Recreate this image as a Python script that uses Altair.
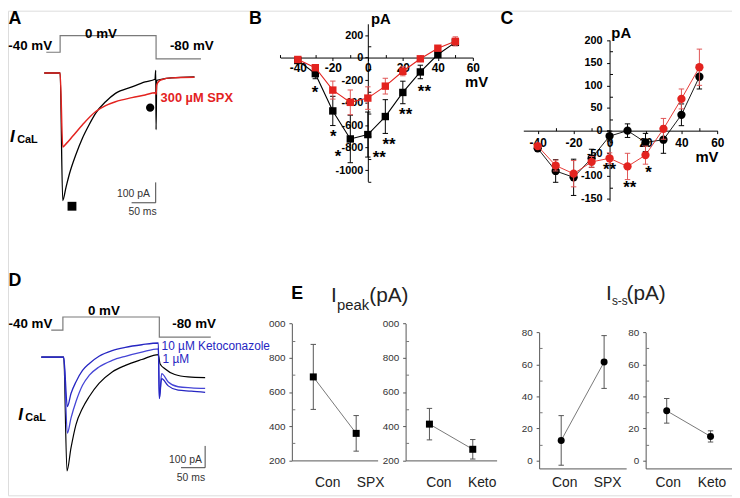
import altair as alt
import pandas as pd

FONT = "Liberation Sans"
W, H, M = 732, 490, 8  # plot area and page margin

# ---------------- data ----------------
# Panel A: I_CaL traces (time ms, current pA)
a_t_con = [-33, 0, 5.4, 12.2, 19.1, 32.8, 46.5, 60.2, 73.9, 94.4, 114.9, 149.1, 176.5, 197.0, 198.5, 199.2, 200.5, 210, 231, 279]
a_i_con = [0, 0, -626, -561, -497, -400, -319, -254, -197, -141, -100, -68, -44, -31, 13, -278, -36, -31, -24, -19]
a_t_spx = [-33, 0, 5.4, 12.2, 25.9, 46.5, 73.9, 94.4, 114.9, 149.1, 176.5, 197.0, 199.2, 200.4, 203.8, 210.6, 231, 279]
a_i_spx = [0, 0, -363, -348, -311, -254, -189, -160, -141, -121, -108, -97, -105, -60, -44, -33, -24, -21]
a_step_t = [-28.7, 0, 0, 199.2, 199.2, 292.4]
step_mv = [-40, -40, 0, 0, -80, -80]
a_bar_t = [148.4, 198.4, 198.4]
a_bar_i = [-637, -637, -537]
a_peak_mark = (24.6, -654)
a_ss_mark = (186.9, -170)

# Panel B: peak I-V (mV, pA)
volt = [-40, -30, -20, -10, 0, 10, 20, 30, 40, 50]
b_con = [-26, -143, -474, -723, -684, -524, -310, -128, 27, 135]
b_con_err = [10, 45, 130, 211, 200, 150, 100, 60, 15, 25]
b_spx = [-17, -90, -289, -398, -360, -254, -122, -11, 83, 144]
b_spx_err = [10, 20, 80, 110, 100, 70, 40, 15, 15, 40]
b_star_x = [-30.2, -19.8, -17.0, 6.5, 12.1, 21.6, 32.3]
b_star_y = [-280, -670, -845, -855, -743, -474, -269]
b_star_t = ["*", "*", "*", "**", "**", "**", "**"]

# Panel C: steady-state I-V (mV, pA)
c_con = [-39, -89, -103, -61, -12, 0, -26, -20, 35, 119]
c_con_err = [5, 25, 40, 20, 11, 15, 20, 30, 24, 27]
c_spx = [-34, -77, -95, -69, -61, -79, -54, 4, 70, 140]
c_spx_err = [5, 12, 29, 12, 12, 29, 20, 23, 22, 40]
c_star_x = [0, 11.3, 21.7]
c_star_y = [-78, -119, -85]
c_star_t = ["**", "**", "*"]

# Panel D: traces control / 1 uM / 10 uM ketoconazole
d_t_con = [-44.8, 1.7, 8.5, 16.8, 27.0, 40.7, 54.4, 74.9, 102.2, 129.6, 163.8, 197.9, 201.4, 211.6, 232.1, 259.5, 295]
d_i_con = [0, 0, -523, -417, -311, -235, -182, -121, -68, -38, -11, 12, -30, -53, -80, -91, -94]
d_t_k = [-44.8, 1.7, 9.2, 16.8, 27.0, 40.7, 54.4, 74.9, 102.2, 129.6, 163.8, 197.9, 200, 204.8, 218.5, 239, 266.3, 295]
d_i_k1 = [0, 0, -349, -280, -205, -129, -84, -45, -15, 4, 23, 38, -190, -76, -114, -136, -141, -144]
d_i_k10 = [0, 0, -227, -167, -114, -61, -30, 4, 30, 45, 57, 65, -190, -99, -132, -152, -156, -162]
d_step_t = [-24.2, 0, 0, 200, 200, 306.7]
d_bar_t = [245, 295, 295]
d_bar_i = [-508, -508, -408]

# Panel E: summary
e_cat_spx = ["Con", "SPX"]
e_cat_keto = ["Con", "Keto"]
e_peak_spx = [688, 358]
e_peak_spx_err = [190, 104]
e_peak_keto = [412, 265]
e_peak_keto_err = [92, 57]
e_ss_spx = [12.5, 61.5]
e_ss_spx_err = [15.5, 16.5]
e_ss_keto = [31, 15]
e_ss_keto_err = [7.7, 3.5]

RED = "#e3231f"
RED_E = "#e05555"
BLUE1 = "#4545d6"
BLUE10 = "#2626c2"
CAP = "M-1,0L1,0"


# ---------------- helpers ----------------
def sc(dom, rng):
    return alt.Scale(domain=dom, range=[r - M for r in rng], nice=False, zero=False)


def psc(cats, rng, pad):
    return alt.Scale(type="point", domain=cats, range=[r - M for r in rng], padding=pad)


def line(xs, ys, sx, sy, color, w=1.0, interp="linear"):
    df = pd.DataFrame({"x": xs, "y": ys, "o": list(range(len(xs)))})
    return alt.Chart(df).mark_line(color=color, strokeWidth=w, interpolate=interp).encode(
        x=alt.X("x:Q", scale=sx, axis=None),
        y=alt.Y("y:Q", scale=sy, axis=None),
        order="o:Q",
    )


def series(xs, ys, errs, sx, sy, color, shape, size, ecolor=None, lcolor=None, lw=1.0, xt="Q", cap=30):
    ecolor = ecolor or color
    lcolor = lcolor or color
    df = pd.DataFrame({
        "x": xs, "y": ys,
        "lo": [y - e for y, e in zip(ys, errs)],
        "hi": [y + e for y, e in zip(ys, errs)],
    })
    X = alt.X(f"x:{xt}", scale=sx, axis=None)
    base = alt.Chart(df)
    return [
        base.mark_rule(color=ecolor, strokeWidth=1).encode(
            x=X, y=alt.Y("lo:Q", scale=sy, axis=None), y2="hi:Q"),
        base.mark_point(shape=CAP, size=cap, color=ecolor, strokeWidth=1, opacity=1).encode(
            x=X, y=alt.Y("lo:Q", scale=sy, axis=None)),
        base.mark_point(shape=CAP, size=cap, color=ecolor, strokeWidth=1, opacity=1).encode(
            x=X, y=alt.Y("hi:Q", scale=sy, axis=None)),
        base.mark_line(color=lcolor, strokeWidth=lw).encode(
            x=X, y=alt.Y("y:Q", scale=sy, axis=None)),
        base.mark_point(shape=shape, size=size, filled=True, color=color, opacity=1).encode(
            x=X, y=alt.Y("y:Q", scale=sy, axis=None)),
    ]


def stars(xs, ys, ts, sx, sy):
    df = pd.DataFrame({"x": xs, "y": ys, "t": ts})
    return alt.Chart(df).mark_text(font=FONT, fontSize=17, fontWeight="bold", color="black", dy=4).encode(
        x=alt.X("x:Q", scale=sx, axis=None), y=alt.Y("y:Q", scale=sy, axis=None), text="t:N")


def marker(pt, sx, sy, shape, size):
    df = pd.DataFrame({"x": [pt[0]], "y": [pt[1]]})
    return alt.Chart(df).mark_point(shape=shape, size=size, filled=True, color="black", opacity=1).encode(
        x=alt.X("x:Q", scale=sx, axis=None), y=alt.Y("y:Q", scale=sy, axis=None))


def qaxis(orient, offset, values, size, pad, tick=3, color="black", lcolor="black", bold=True,
          expr="'' + datum.value"):
    return alt.Axis(orient=orient, offset=offset, values=values, labelExpr=expr, labelFont=FONT,
                    labelFontSize=size, labelFontWeight="bold" if bold else "normal", labelColor=lcolor,
                    labelPadding=pad, tickSize=tick, tickColor=color, domainColor=color, tickWidth=1,
                    domainWidth=1, grid=False, title=None, labelFlush=False, labelOverlap=False)


def minor(orient, offset, values, color="black", tick=3):
    return alt.Axis(orient=orient, offset=offset, values=values, labels=False, domain=False,
                    tickSize=tick, tickColor=color, tickWidth=1, grid=False, title=None)


def axes(sx, sy, xv, yv, xt, xaxis, yaxis):
    df = pd.DataFrame({"x": [xv], "y": [yv]})
    return alt.Chart(df).mark_point(opacity=0).encode(
        x=alt.X(f"x:{xt}", scale=sx, axis=xaxis), y=alt.Y("y:Q", scale=sy, axis=yaxis))


def txt(s, x, y, size, bold=True, italic=False, color="black", align="left"):
    return alt.Chart(pd.DataFrame({"s": [s]})).mark_text(
        font=FONT, fontSize=size, fontWeight="bold" if bold else "normal",
        fontStyle="italic" if italic else "normal", color=color, align=align, baseline="middle",
    ).encode(x=alt.value(x - M), y=alt.value(y - M), text="s:N")


layers = []

# ---------------- Panel A ----------------
ax_A = sc([0, 200], [60.7, 158.1])
ay_A = sc([-600, 0], [194.6, 71])
av_A = sc([-80, -40, 0], [56.7, 50, 33.3])
layers += [
    line(a_step_t, step_mv, ax_A, av_A, "#7a7a7a", 1.2),
    line(a_t_con, a_i_con, ax_A, ay_A, "black", 1.3, "monotone"),
    line(a_t_spx, a_i_spx, ax_A, ay_A, RED, 1.5, "monotone"),
    line(a_bar_t, a_bar_i, ax_A, ay_A, "#444", 1.0),
    marker(a_peak_mark, ax_A, ay_A, "square", 80),
    marker(a_ss_mark, ax_A, ay_A, "circle", 70),
]

# ---------------- Panel B ----------------
bx = sc([-50, 60], [283.3, 478.0])
by = sc([-1100, 300], [180.6, 21.25])
layers += [
    axes(bx, by, 0, 0, "Q",
         qaxis("bottom", (55.4 - M) - H, [-40, -20, 0, 20, 40, 60], 12, 2),
         qaxis("left", -(371.8 - M), [-1000, -800, -600, -400, -200, 0, 200], 11, 2)),
    axes(bx, by, 0, 0, "Q",
         minor("top", -(55.4 - M), [-50, -30, -10, 10, 30, 50]),
         minor("right", (371.8 - M) - W, [-1100, -900, -700, -500, -300, -100, 100])),
]
layers += series(volt, b_con, b_con_err, bx, by, "black", "square", 56, lw=1.1)
layers += series(volt, b_spx, b_spx_err, bx, by, RED, "square", 56, ecolor=RED_E, lw=1.1)
layers.append(stars(b_star_x, b_star_y, b_star_t, bx, by))

# ---------------- Panel C ----------------
cx = sc([-48, 60], [529.0, 725.2])
cy = sc([-155, 200], [200.3, 37.7])
layers += [
    axes(cx, cy, 0, 0, "Q",
         qaxis("bottom", (129.3 - M) - H, [-40, -20, 0, 20, 40, 60], 12, 4),
         qaxis("left", -(616.2 - M), [-150, -100, -50, 0, 50, 100, 150, 200], 11, 4.5)),
    axes(cx, cy, 0, 0, "Q",
         minor("top", -(129.3 - M), [-30, -10, 10, 30, 50]),
         minor("right", (616.2 - M) - W, [-125, -75, -25, 25, 75, 125, 175])),
]
layers += series(volt, c_con, c_con_err, cx, cy, "black", "circle", 70, lw=0.9)
layers += series(volt, c_spx, c_spx_err, cx, cy, RED, "circle", 70, ecolor=RED_E, lw=0.9)
layers.append(stars(c_star_x, c_star_y, c_star_t, cx, cy))

# ---------------- Panel D ----------------
dx_ = sc([0, 200], [63.5, 161.0])
dy_ = sc([-500, 0], [468.3, 358.3])
dv_ = sc([-80, -40, 0], [338, 331, 317.7])
layers += [
    line(d_step_t, step_mv, dx_, dv_, "#7a7a7a", 1.2),
    line(d_t_con, d_i_con, dx_, dy_, "black", 1.2, "monotone"),
    line(d_t_k, d_i_k1, dx_, dy_, BLUE1, 1.3, "monotone"),
    line(d_t_k, d_i_k10, dx_, dy_, BLUE10, 1.3, "monotone"),
    line(d_bar_t, d_bar_i, dx_, dy_, "#444", 1.0),
]


# ---------------- Panel E ----------------
def e_panel(cats, vals, errs, xr, pad, yd, yr, yaxis_x, xaxis_y, yvals, ymin, lab_off, lab_pad, shape, expr):
    sx = psc(cats, xr, pad)
    sy = sc(yd, yr)
    xa = alt.Axis(orient="bottom", offset=(xaxis_y - M) - H, ticks=False, labelFont=FONT, labelFontSize=14,
                  labelColor="#222", labelPadding=lab_pad, labelOffset=lab_off, domainColor="#555",
                  domainWidth=1, grid=False, title=None, labelAngle=0)
    ya = qaxis("left", -(yaxis_x - M), yvals, 10, 4, tick=3, color="#555", lcolor="#333", bold=False, expr=expr)
    ym = minor("right", (yaxis_x - M) - W, ymin, color="#777", tick=3)
    out = [axes(sx, sy, cats[0], yd[0], "N", xa, ya), axes(sx, sy, cats[0], yd[0], "N", None, ym)]
    out += series(cats, vals, errs, sx, sy, "black", shape, 50, ecolor="#555", lcolor="#555", lw=0.8, xt="N", cap=30)
    return out


peak_expr = "datum.value == 1000 ? '000' : '' + datum.value"
layers += e_panel(e_cat_spx, e_peak_spx, e_peak_spx_err, [295, 381.7], 0.5, [200, 1000], [462.7, 324.3],
                  295, 462.7, [200, 400, 600, 800, 1000], [300, 500, 700, 900], 14, 15, "square", peak_expr)
layers += e_panel(e_cat_keto, e_peak_keto, e_peak_keto_err, [410, 502], 0.55, [200, 1000], [462.7, 324.3],
                  410, 462.7, [200, 400, 600, 800, 1000], [300, 500, 700, 900], 9, 15, "square", peak_expr)
layers += e_panel(e_cat_spx, e_ss_spx, e_ss_spx_err, [545, 633], 0.514, [-5, 80], [470.8, 333.3],
                  545, 470.8, [0, 20, 40, 60, 80], [10, 30, 50, 70], 3, 7, "circle", "'' + datum.value")
layers += e_panel(e_cat_keto, e_ss_keto, e_ss_keto_err, [652.7, 739.6], 0.48, [-5, 80], [470.8, 333.3],
                  652.7, 470.8, [0, 20, 40, 60, 80], [10, 30, 50, 70], 1, 7, "circle", "'' + datum.value")

# ---------------- text annotations ----------------
layers += [
    txt("A", 8.5, 16, 18), txt("B", 251.7, 16, 18), txt("C", 506, 16, 18),
    txt("D", 8.5, 281, 18), txt("E", 294.3, 294.5, 18),
    txt("-40 mV", 8.3, 43.3, 13.5), txt("0 mV", 102, 31.7, 13.5, align="center"), txt("-80 mV", 171.7, 43.3, 13.5),
    txt("-40 mV", 8.6, 325, 13.5), txt("0 mV", 105, 311.7, 13.5, align="center"), txt("-80 mV", 174, 325, 13.5),
    txt("pA", 375, 16, 15), txt("mV", 470, 80.5, 15), txt("pA", 618, 31, 15), txt("mV", 703, 155.5, 15),
    txt("300 µM SPX", 162.3, 96.7, 13, color=RED),
    txt("I", 10, 136, 17, italic=True), txt("CaL", 17.3, 138.5, 11),
    txt("I", 18.3, 417, 17, italic=True), txt("CaL", 25.5, 419.5, 11),
    txt("10 µM Ketoconazole", 163.3, 346.7, 12, bold=False, color=BLUE10),
    txt("1 µM", 164.3, 360, 12, bold=False, color=BLUE10),
    txt("100 pA", 151.5, 193, 10.5, bold=False, color="#333", align="right"),
    txt("50 ms", 144, 211.7, 10.5, bold=False, color="#333", align="center"),
    txt("100 pA", 204, 462.7, 10.5, bold=False, color="#333", align="right"),
    txt("50 ms", 193, 480.7, 10.5, bold=False, color="#333", align="center"),
    txt("I", 334.5, 296.7, 21, bold=False, color="#222"), txt("peak", 340.7, 306, 15, bold=False, color="#222"),
    txt("(pA)", 373.3, 296.7, 21, bold=False, color="#222"),
    txt("I", 612.5, 295, 21, bold=False, color="#222"), txt("s-s", 618.6, 301.7, 12, bold=False, color="#222"),
    txt("(pA)", 633.3, 295, 21, bold=False, color="#222"),
]

chart = alt.layer(*layers).resolve_scale(x="independent", y="independent").resolve_axis(
    x="independent", y="independent"
).properties(
    width=W, height=H, padding=0, autosize=alt.AutoSizeParams(type="none")
).configure_view(stroke=None).configure(background="white")

chart.save("out.html", embed_options={"renderer": "svg", "actions": False})
